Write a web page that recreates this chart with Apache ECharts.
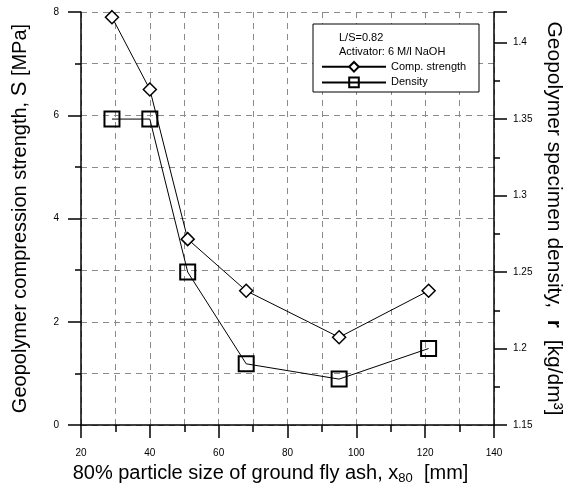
<!DOCTYPE html>
<html>
<head>
<meta charset="utf-8">
<script src="https://cdn.jsdelivr.net/npm/echarts@6/dist/echarts.min.js"></script>
<style>
  html, body { margin: 0; padding: 0; background: #fff; }
  #chart { width: 566px; height: 486px; }
</style>
</head>
<body>
<div id="chart"></div>
<script>
// particle size x80 [um]
const particleSize = [29, 40, 51, 68, 95, 121];
// compression strength [MPa]
const compStrength = [7.9, 6.5, 3.6, 2.6, 1.7, 2.6];
// specimen density [kg/dm3]
const density = [1.35, 1.35, 1.25, 1.19, 1.18, 1.2];

const myChart = echarts.init(document.getElementById('chart'));
const font = 'Liberation Sans, Arial, sans-serif';
const gridDash = { color: '#8a8a8a', width: 1, type: [6, 5] };

const options = {
  animation: false,
  textStyle: { fontFamily: font, color: '#000' },
  grid: { left: 81, right: 72, top: 12, bottom: 61, outerBoundsMode: 'none' },
  legend: {
    data: ['Comp. strength', 'Density'],
    orient: 'vertical',
    left: 316,
    top: 56,
    itemWidth: 64,
    itemHeight: 12,
    itemGap: 4,
    z: 10,
    textStyle: { fontSize: 11, color: '#000', fontFamily: font }
  },
  graphic: [
    {
      type: 'rect',
      z: 8,
      shape: { x: 313, y: 24, width: 166, height: 68 },
      style: { fill: '#fff', stroke: '#000', lineWidth: 1 }
    },
    {
      type: 'text',
      z: 10,
      x: 339,
      y: 32,
      style: { text: 'L/S=0.82', fontSize: 11, fontFamily: font, fill: '#000' }
    },
    {
      type: 'text',
      z: 10,
      x: 339,
      y: 46,
      style: { text: 'Activator: 6 M/l NaOH', fontSize: 11, fontFamily: font, fill: '#000' }
    }
  ],
  xAxis: {
    type: 'value',
    min: 20,
    max: 140,
    interval: 20,
    name: '80% particle size of ground fly ash, x{sub|80}  [mm]',
    nameLocation: 'middle',
    nameGap: 36,
    nameTextStyle: {
      fontSize: 20,
      color: '#000',
      lineHeight: 22,
      padding: [0, 34, 0, 0],
      rich: {
        sub: { fontSize: 13, verticalAlign: 'bottom', lineHeight: 15 }
      }
    },
    axisLine: { lineStyle: { color: '#000', width: 1.5 } },
    axisTick: { length: 13, lineStyle: { color: '#000', width: 1.5 } },
    minorTick: { show: true, splitNumber: 2, length: 7, lineStyle: { color: '#000', width: 1.5 } },
    axisLabel: { fontSize: 10, color: '#000', margin: 23 },
    splitLine: { show: true, lineStyle: gridDash },
    minorSplitLine: { show: true, lineStyle: gridDash }
  },
  yAxis: [
    {
      type: 'value',
      min: 0,
      max: 8,
      interval: 2,
      name: 'Geopolymer compression strength, {s|S} [MPa]',
      nameLocation: 'middle',
      nameRotate: 90,
      nameGap: 50,
      nameTextStyle: {
        fontSize: 20,
        color: '#000',
        rich: { s: { fontSize: 22 } }
      },
      axisLine: { show: true, lineStyle: { color: '#000', width: 1.5 } },
      axisTick: { show: true, length: 13, lineStyle: { color: '#000', width: 1.5 } },
      minorTick: { show: true, splitNumber: 2, length: 6, lineStyle: { color: '#000', width: 1.5 } },
      axisLabel: { fontSize: 10, color: '#000', margin: 22 },
      splitLine: { show: true, lineStyle: gridDash },
      minorSplitLine: { show: true, lineStyle: gridDash }
    },
    {
      type: 'value',
      position: 'right',
      min: 1.15,
      max: 1.42,
      interval: 0.05,
      name: 'Geopolymer specimen density,  {r|r}  [kg/dm³]',
      nameLocation: 'middle',
      nameRotate: -90,
      nameGap: 44,
      nameTextStyle: {
        fontSize: 21,
        color: '#000',
        rich: { r: { fontSize: 21, fontWeight: 'bold' } }
      },
      axisLine: { show: true, lineStyle: { color: '#000', width: 1.5 } },
      axisTick: { show: true, length: 13, lineStyle: { color: '#000', width: 1.5 } },
      minorTick: { show: true, splitNumber: 2, length: 6, lineStyle: { color: '#000', width: 1.5 } },
      axisLabel: {
        fontSize: 10,
        color: '#000',
        margin: 19,
        formatter: function (v) {
          if (Math.abs(v - 1.42) < 1e-6) return '';
          return String(+v.toFixed(2));
        }
      },
      splitLine: { show: false }
    }
  ],
  series: [
    {
      name: 'Comp. strength',
      type: 'line',
      yAxisIndex: 0,
      data: particleSize.map((x, i) => [x, compStrength[i]]),
      symbol: 'diamond',
      symbolSize: 13,
      lineStyle: { color: '#000', width: 1 },
      itemStyle: { color: '#fff', borderColor: '#000', borderWidth: 1.5 },
      z: 3
    },
    {
      name: 'Density',
      type: 'line',
      yAxisIndex: 1,
      data: particleSize.map((x, i) => [x, density[i]]),
      symbol: 'rect',
      symbolSize: 15,
      lineStyle: { color: '#000', width: 1 },
      itemStyle: { color: 'rgba(255,255,255,0)', borderColor: '#000', borderWidth: 2 },
      z: 3
    }
  ]
};
myChart.setOption(options);
</script>
</body>
</html>
